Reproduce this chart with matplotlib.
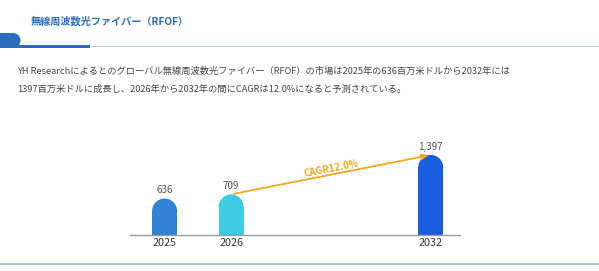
import matplotlib
matplotlib.use('Agg')
import matplotlib.pyplot as plt
from matplotlib.patches import Ellipse, Rectangle
import numpy as np

plt.rcParams['font.family'] = ['Noto Sans CJK JP', 'DejaVu Sans']

years = ['2025', '2026', '2032']
values = [636, 709, 1397]
labels = ['636', '709', '1,397']
slots = [0, 1, 4]
colors = ['#3282d6', '#3ecbe6', '#1a5ee0']
title = '無線周波数光ファイバー（RFOF）'
body = ['YH Researchによるとのグローバル無線周波数光ファイバー（RFOF）の市場は2025年の636百万米ドルから2032年には',
        '1397百万米ドルに成長し、2026年から2032年の間にCAGRは12.0%になると予測されている。']
cagr = 'CAGR12.0%'

W, H = 599, 271
fig = plt.figure(figsize=(W / 100, H / 100), dpi=100)


def px_rect(x, y, w, h, c):
    # x, y = top-left in pixels
    fig.add_artist(Rectangle((x / W, 1 - (y + h) / H), w / W, h / H,
                             transform=fig.transFigure, color=c, lw=0))


# header
fig.text(31 / W, 1 - 22 / H, title, color='#2f6db5', fontsize=7.3, fontweight='bold', va='center')
px_rect(0, 45.5, W, 1.3, '#b7cde6')
px_rect(0, 45, 90, 3, '#2a6ebb')
px_rect(0, 33, 13, 15, '#2a6ebb')
fig.add_artist(Ellipse((13 / W, 1 - 40.5 / H), 15 / W, 15 / H, transform=fig.transFigure,
                       color='#2a6ebb', lw=0))
px_rect(0, 262.5, W, 2, '#a9c5e3')

for i, line in enumerate(body):
    fig.text(17 / W, 1 - (71 + 18 * i) / H, line, color='#444444', fontsize=6.65, va='center')

# chart
ax = fig.add_axes([130 / W, 36 / H, 330 / W, 100 / H])
ymax = 1745
ax.set_xlim(-0.52, 4.44)
ax.set_ylim(0, ymax)
for s in ['top', 'right', 'left']:
    ax.spines[s].set_visible(False)
ax.spines['bottom'].set_color('#999999')
ax.spines['bottom'].set_linewidth(1)
ax.set_yticks([])
ax.set_xticks(slots)
ax.set_xticklabels(years, fontsize=7.8, color='#333333')
ax.tick_params(axis='x', length=0, pad=2.5)

bw = 0.376
ry = 12.5 * ymax / 100
for x, v, c, lab in zip(slots, values, colors, labels):
    ax.bar(x, v - ry, width=bw, color=c, lw=0)
    ax.add_patch(Ellipse((x, v - ry), bw, 2 * ry, color=c, lw=0))
    ax.text(x, v + 60, lab, ha='center', va='bottom', fontsize=7.1, color='#555555')

ax.annotate('', xy=(slots[2], values[2]), xytext=(slots[1], values[1]),
            arrowprops=dict(arrowstyle='-|>', color='#f5a623', lw=1.3, mutation_scale=9))
mx = (slots[1] + slots[2]) / 2
my = (values[1] + values[2]) / 2
ax.text(mx, my + 110, cagr, color='#f5a623', fontsize=7, fontweight='bold',
        ha='center', va='center', rotation=11)

fig.savefig('out.png', dpi=100)
